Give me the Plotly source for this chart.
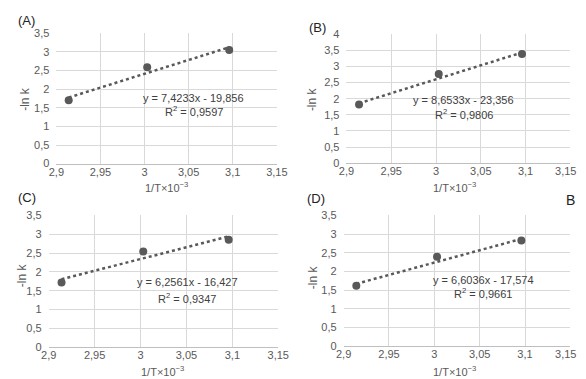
import plotly.graph_objects as go

# ---- data ----
x_vals = [2.914, 3.003, 3.096]
y_A = [1.70, 2.59, 3.05]
y_B = [1.82, 2.77, 3.39]
y_C = [1.72, 2.54, 2.85]
y_D = [1.62, 2.39, 2.83]
slopes = [7.4233, 8.6533, 6.2561, 6.6036]
intercepts = [-19.856, -23.356, -16.427, -17.574]
eq_texts = ["y = 7,4233x - 19,856", "y = 8,6533x - 23,356",
            "y = 6,2561x - 16,427", "y = 6,6036x - 17,574"]
r2_texts = ["R<sup>2</sup> = 0,9597", "R<sup>2</sup> = 0,9806",
            "R<sup>2</sup> = 0,9347", "R<sup>2</sup> = 0,9661"]
panel_labels = ["(A)", "(B)", "(C)", "(D)"]
x_ticks = [2.9, 2.95, 3.0, 3.05, 3.1, 3.15]
x_ticktext = ["2,9", "2,95", "3", "3,05", "3,1", "3,15"]
y_ticks_35 = [0, 0.5, 1, 1.5, 2, 2.5, 3, 3.5]
y_ticktext_35 = ["0", "0,5", "1", "1,5", "2", "2,5", "3", "3,5"]
y_ticks_4 = [0, 0.5, 1, 1.5, 2, 2.5, 3, 3.5, 4]
y_ticktext_4 = ["0", "0,5", "1", "1,5", "2", "2,5", "3", "3,5", "4"]
x_title = "1/T×10<sup>−3</sup>"
y_title = "-ln k"

W, H = 586, 379
# pixel boxes (left, right, top, bottom)
boxes = [(42, 271.5, 20, 154.5), (344, 577, 21, 154), (34, 273, 208, 344), (341, 577, 208, 343)]
pad_last = [False, True, False, True]
eq_pos = [(3.056, 1.77, 1.41), (3.031, 1.95, 1.54), (3.051, 1.72, 1.30), (3.054, 1.76, 1.41)]
label_pos = [(0, 7), (303, 14), (0, 190), (301, 191)]
ytitle_pos = [(10, 88), (308, 88), (7, 270), (310, 272)]
xtitle_pos = [(157, 188), (456, 188), (152, 378), (456, 378)]

ys = [y_A, y_B, y_C, y_D]
yticks = [(y_ticks_35, y_ticktext_35, 3.5), (y_ticks_4, y_ticktext_4, 4),
          (y_ticks_35, y_ticktext_35, 3.5), (y_ticks_35, y_ticktext_35, 3.5)]

FONT = "Liberation Sans, Arial, sans-serif"
TXT = "#595959"
fig = go.Figure()
annotations = []
layout = {}
for i in range(4):
    xa = "x" if i == 0 else f"x{i+1}"
    ya = "y" if i == 0 else f"y{i+1}"
    l, r, t, b = boxes[i]
    x0, x1 = x_vals[0], x_vals[-1]
    fig.add_trace(go.Scatter(
        x=[x0, x1], y=[slopes[i] * x0 + intercepts[i], slopes[i] * x1 + intercepts[i]],
        mode="lines", line=dict(color="#595959", width=2.5, dash="dot"),
        xaxis=xa, yaxis=ya, showlegend=False, hoverinfo="skip"))
    fig.add_trace(go.Scatter(
        x=x_vals, y=ys[i], mode="markers",
        marker=dict(color="#595959", size=8),
        xaxis=xa, yaxis=ya, showlegend=False))
    tv, tt, ymax = yticks[i]
    xtt = list(x_ticktext)
    if pad_last[i]:
        xtt[-1] = xtt[-1] + "\u00a0\u00a0\u00a0"
    layout["xaxis" if i == 0 else f"xaxis{i+1}"] = dict(
        domain=[l / W, r / W], range=[2.9, 3.15], anchor=ya,
        tickvals=x_ticks, ticktext=xtt, showgrid=True, gridcolor="#d9d9d9",
        gridwidth=1, zeroline=False, showline=True, linecolor="#bfbfbf", linewidth=1,
        ticks="", ticklabelstandoff=-2,
        tickfont=dict(size=11, color=TXT, family=FONT), fixedrange=True)
    layout["yaxis" if i == 0 else f"yaxis{i+1}"] = dict(
        domain=[1 - b / H, 1 - t / H], range=[0, ymax], anchor=xa,
        tickvals=tv, ticktext=tt, showgrid=True, gridcolor="#d9d9d9", gridwidth=1,
        zeroline=False, showline=False, ticks="", ticklabelstandoff=6,
        tickfont=dict(size=11, color=TXT, family=FONT), fixedrange=True)
    ex, ey, ry = eq_pos[i]
    annotations.append(dict(x=ex, y=ey, xref=xa, yref=ya, text=eq_texts[i], showarrow=False,
                            font=dict(size=11, color="#404040", family=FONT)))
    annotations.append(dict(x=ex, y=ry, xref=xa, yref=ya, text=r2_texts[i], showarrow=False,
                            font=dict(size=11, color="#404040", family=FONT)))
    lx, ly = label_pos[i]
    annotations.append(dict(x=lx / W, y=1 - ly / H, xref="paper", yref="paper", text=panel_labels[i],
                            showarrow=False, xanchor="left", yanchor="middle",
                            font=dict(size=13, color="#222222", family=FONT)))
    tx, ty = ytitle_pos[i]
    annotations.append(dict(x=tx / W, y=1 - ty / H, xref="paper", yref="paper", text=y_title,
                            showarrow=False, textangle=-90, xanchor="center", yanchor="middle",
                            font=dict(size=12, color=TXT, family=FONT)))
    qx, qy = xtitle_pos[i]
    annotations.append(dict(x=qx / W, y=1 - qy / H, xref="paper", yref="paper", text=x_title,
                            showarrow=False, xanchor="center", yanchor="bottom",
                            font=dict(size=11, color=TXT, family=FONT)))

annotations.append(dict(x=577 / W, y=1 - 192 / H, xref="paper", yref="paper", text="B",
                        showarrow=False, xanchor="center", yanchor="middle",
                        font=dict(size=14, color="#222222", family=FONT)))

fig.update_layout(width=W, height=H, margin=dict(l=0, r=0, t=0, b=0),
                  paper_bgcolor="white", plot_bgcolor="white",
                  annotations=annotations, **layout)
fig.write_html("out.html")
